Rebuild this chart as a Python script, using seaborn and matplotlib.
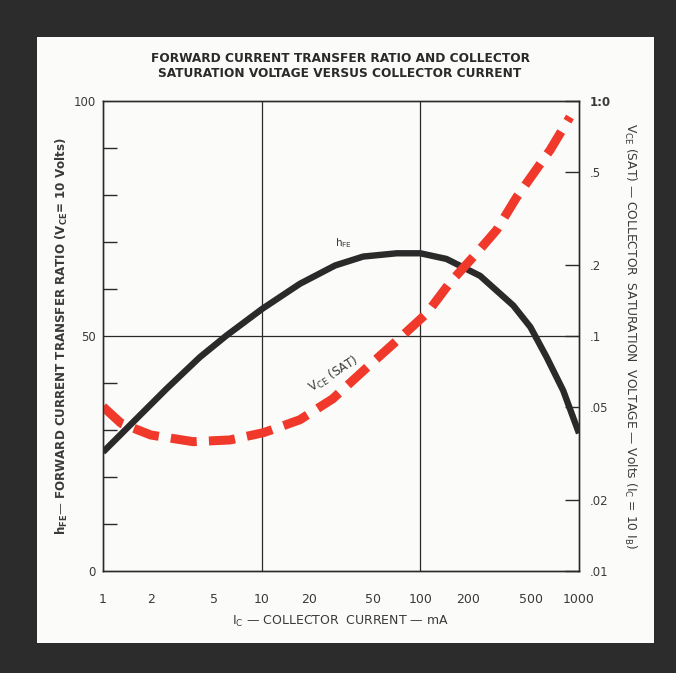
import numpy as np
import matplotlib
matplotlib.use("Agg")
import matplotlib.pyplot as plt
import seaborn as sns
from matplotlib.patches import Rectangle
from matplotlib.ticker import FixedLocator, NullLocator, FixedFormatter

# values
ic_hfe = [1, 1.55, 2.52, 4.08, 6.0, 10.1, 17.4, 29, 43.6, 71, 100, 146, 238, 385, 494, 625, 795, 1000]
hfe = [25.3, 31.7, 38.8, 45.5, 50.1, 55.8, 61.1, 65.0, 66.9, 67.6, 67.6, 66.4, 62.8, 56.5, 51.9, 45.5, 38.4, 29.3]

ic_vce = [1, 1.3, 2, 3.7, 6.3, 10.3, 17.4, 28, 48, 78, 110, 153, 226, 303, 405, 659, 877]
vce = [0.050, 0.0425, 0.0379, 0.0355, 0.0361, 0.0388, 0.044, 0.054, 0.0753, 0.101, 0.125,
       0.168, 0.225, 0.283, 0.39, 0.62, 0.855]

x_ticks = [1, 2, 5, 10, 20, 50, 100, 200, 500, 1000]
x_labels = ["1", "2", "5", "10", "20", "50", "100", "200", "500", "1000"]
r_ticks = [1.0, 0.5, 0.2, 0.1, 0.05, 0.02, 0.01]
r_labels = ["1:0", ".5", ".2", ".1", ".05", ".02", ".01"]

sns.set_style("white")
plt.rcParams["font.family"] = ["DejaVu Sans"]
plt.rcParams["mathtext.fontset"] = "dejavusans"

INK = "#2a2a2a"
TXT = "#3a3a3a"
RED = "#f0392b"

fig = plt.figure(figsize=(6.76, 6.73), dpi=100)
fig.patch.set_facecolor("#2c2c2c")
fig.patches.append(Rectangle((0.0547, 0.0446), 0.9127, 0.9004, transform=fig.transFigure,
                             facecolor="#fbfbf9", edgecolor="none", zorder=-10))

ax = fig.add_axes([0.1524, 0.1516, 0.7041, 0.6983])
ax.set_facecolor("none")
ax2 = ax.twinx()

sns.lineplot(x=ic_hfe, y=hfe, ax=ax, color=INK, linewidth=4.6)
ax.lines[-1].set_solid_capstyle("butt")
ax.lines[-1].set_solid_joinstyle("round")

sns.lineplot(x=ic_vce, y=vce, ax=ax2, color=RED, linewidth=6.5)
ln = ax2.lines[-1]
ln.set_dashes((2.9, 1.35))
ln.set_dash_capstyle("butt")

ax.set_xscale("log")
ax.set_xlim(1, 1000)
ax.set_ylim(0, 100)
ax2.set_yscale("log")
ax2.set_ylim(0.01, 1.0)

# grid lines
ax.axhline(50, color=INK, lw=0.9, zorder=1)
for xv in (10, 100):
    ax.axvline(xv, color=INK, lw=0.9, zorder=1)

for a in (ax, ax2):
    for s in a.spines.values():
        s.set_color(INK)
        s.set_linewidth(1.0)

ax.xaxis.set_major_locator(FixedLocator(x_ticks))
ax.xaxis.set_major_formatter(FixedFormatter(x_labels))
ax.xaxis.set_minor_locator(NullLocator())
ax.yaxis.set_major_locator(FixedLocator([0, 50, 100]))
ax.yaxis.set_minor_locator(FixedLocator(list(range(10, 100, 10))))
ax.tick_params(axis="x", which="major", direction="in", length=7, width=1, color=INK,
               labelsize=9, labelcolor=TXT, pad=16)
ax.tick_params(axis="y", which="major", direction="in", length=0, labelsize=8.5,
               labelcolor=TXT, pad=5)
ax.tick_params(axis="y", which="minor", direction="in", length=10, width=1, color=INK)

ax2.yaxis.set_major_locator(FixedLocator(r_ticks))
ax2.yaxis.set_major_formatter(FixedFormatter(r_labels))
ax2.yaxis.set_minor_locator(NullLocator())
ax2.tick_params(axis="y", which="major", direction="in", length=10, width=1, color=INK,
                labelsize=8.5, labelcolor=TXT, pad=8)
ax2.get_yticklabels()[0].set_fontweight("bold")
ax2.set_ylabel("")
ax.set_ylabel("")
ax.set_xlabel("")

# titles and axis labels
fig.text(0.503, 0.9138, "FORWARD CURRENT TRANSFER RATIO AND COLLECTOR", ha="center", va="center",
         fontsize=9.7, fontweight="bold", fontstretch="condensed", color=INK)
fig.text(0.503, 0.8915, "SATURATION VOLTAGE VERSUS COLLECTOR CURRENT", ha="center", va="center",
         fontsize=9.7, fontweight="bold", fontstretch="condensed", color=INK)

fig.text(0.092, 0.50, r"h$_\mathregular{FE}$— FORWARD CURRENT TRANSFER RATIO (V$_\mathregular{CE}$= 10 Volts)",
         rotation=90, ha="center", va="center", fontsize=8.6, fontweight="bold", color=TXT)
fig.text(0.932, 0.50, r"V$_\mathregular{CE}$ (SAT) — COLLECTOR  SATURATION  VOLTAGE — Volts (I$_\mathregular{C}$ = 10 I$_\mathregular{B}$)",
         rotation=270, ha="center", va="center", fontsize=8.8, color=TXT)
fig.text(0.503, 0.077, r"I$_\mathregular{C}$ — COLLECTOR  CURRENT — mA", ha="center", va="center",
         fontsize=9, color=TXT)

ax.text(33, 69.8, r"h$_\mathregular{FE}$", fontsize=7.5, color=TXT, ha="center", va="center")
ax.text(28.5, 41.8, r"V$_\mathregular{CE}$ (SAT)", fontsize=8.6, color=TXT, ha="center", va="center",
        rotation=32)

fig.savefig("out.png", dpi=100, facecolor=fig.get_facecolor())
